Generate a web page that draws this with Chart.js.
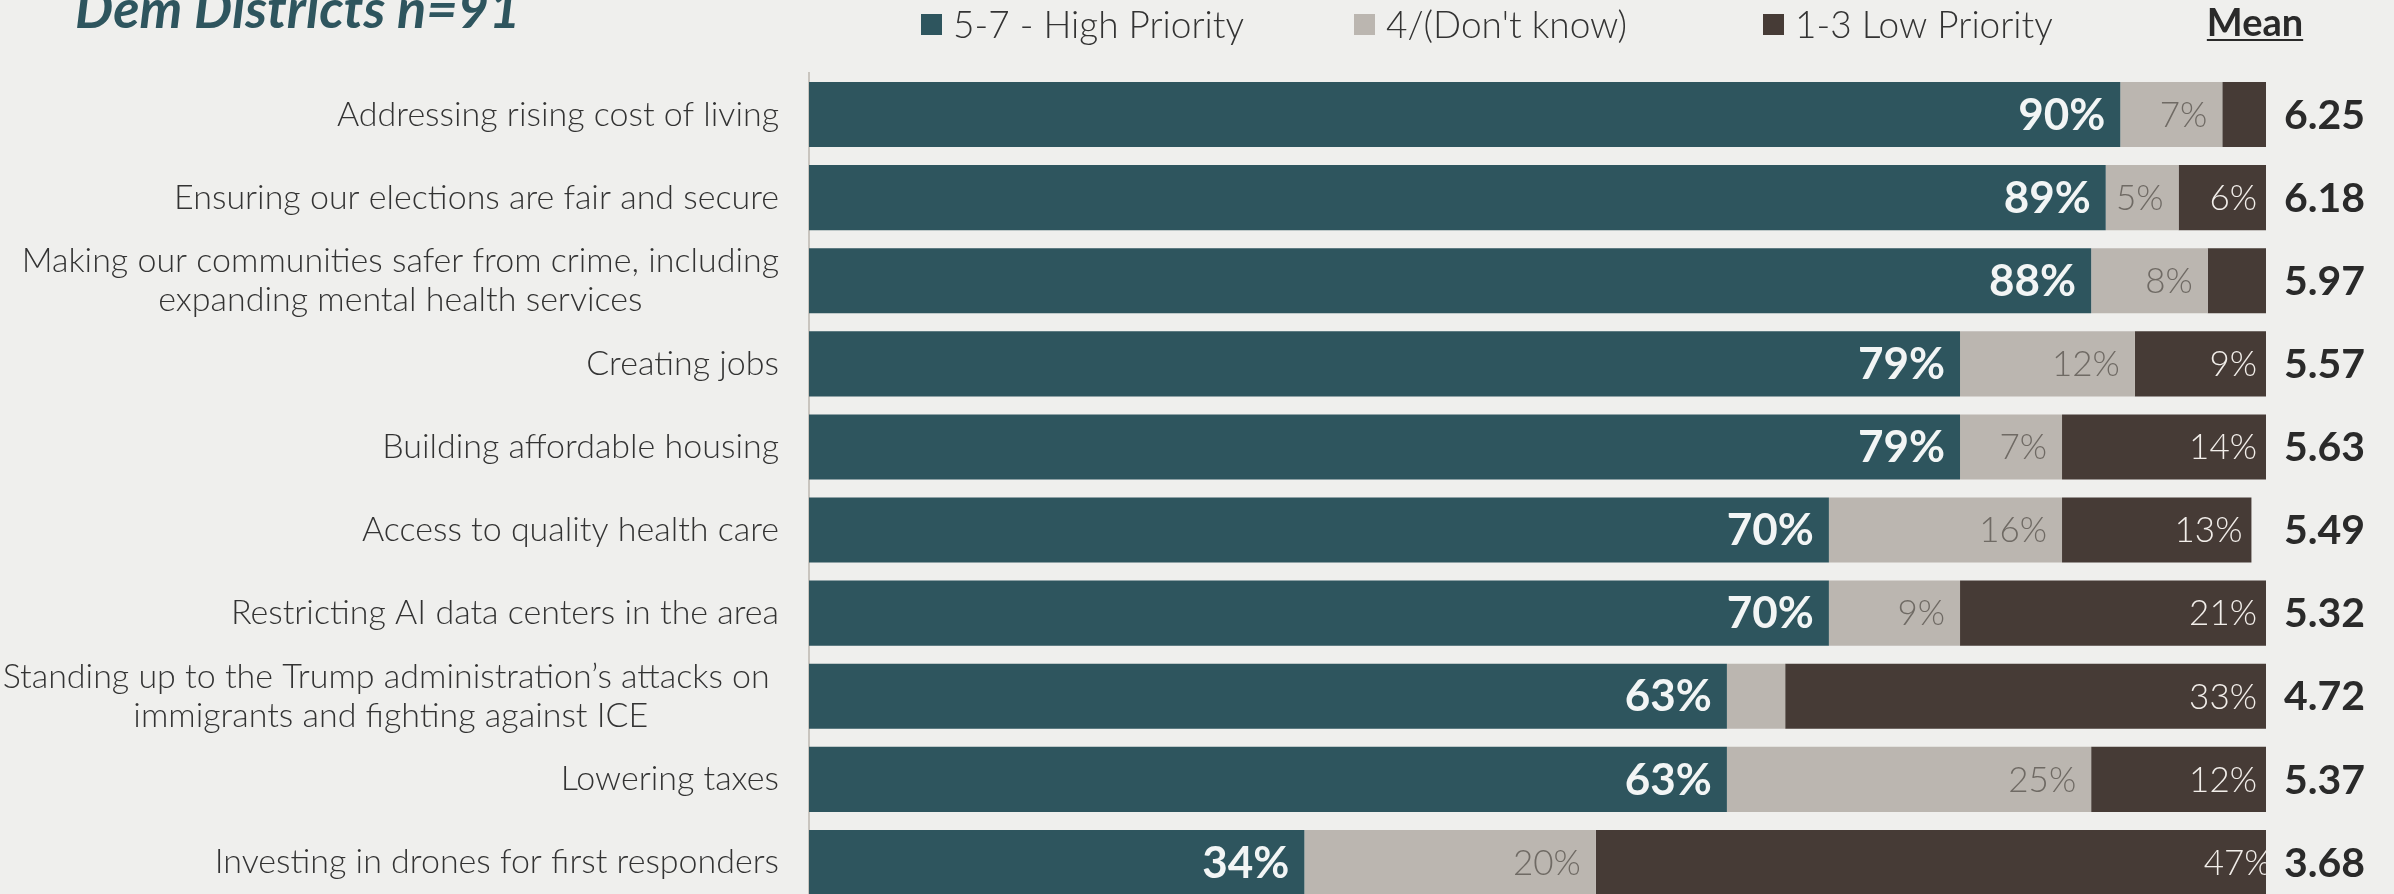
<!DOCTYPE html>
<html>
<head>
<meta charset="utf-8">
<script src="https://cdn.jsdelivr.net/npm/chart.js@4.4.1/dist/chart.umd.min.js"></script>
<style>
  html, body { margin: 0; padding: 0; background: #efefed; overflow: hidden; }
  #wrap { width: 2394px; height: 894px; overflow: hidden; }
</style>
</head>
<body>
<div id="wrap"><canvas id="chart" width="2394" height="920"></canvas></div>
<script>
// Dem Districts n=91 - priority ratings
var categories = [
    'Addressing rising cost of living',
    'Ensuring our elections are fair and secure',
    ['Making our communities safer from crime, including', 'expanding mental health services'],
    'Creating jobs',
    'Building affordable housing',
    'Access to quality health care',
    'Restricting AI data centers in the area',
    ['Standing up to the Trump administration\u2019s attacks on ', 'immigrants and fighting against ICE'],
    'Lowering taxes',
    'Investing in drones for first responders'
];
var highPriority = [90, 89, 88, 79, 79, 70, 70, 63, 63, 34];
var dontKnow = [7, 5, 8, 12, 7, 16, 9, 4, 25, 20];
var lowPriority = [3, 6, 4, 9, 14, 13, 21, 33, 12, 47];
var means = ['6.25', '6.18', '5.97', '5.57', '5.63', '5.49', '5.32', '4.72', '5.37', '3.68'];
var seriesNames = ['5-7 - High Priority', '4/(Don\'t know)', '1-3 Low Priority'];

var FONT = 'Lato, "Open Sans", sans-serif';
var TEAL = '#2e555e';
var GREY = '#bbb6b0';
var BROWN = '#463b36';

// how the % labels inside each segment look
var segLabelStyle = [
    { font: 'bold 44px ' + FONT, color: '#f2f5f5', pad: 15 },
    { font: '300 35px ' + FONT, color: '#6f6a64', pad: 15 },
    { font: '300 35px ' + FONT, color: '#f2eeea', pad: 9 }
];
var legendX = [921, 1354, 1763];

var textPlugin = {
    id: 'textPlugin',
    afterDatasetsDraw: function (chart) {
        var ctx = chart.ctx;
        ctx.save();
        ctx.textBaseline = 'middle';
        chart.data.datasets.forEach(function (ds, di) {
            var st = segLabelStyle[di];
            chart.getDatasetMeta(di).data.forEach(function (bar, i) {
                var v = ds.data[i];
                if (v < 5) return;
                ctx.font = st.font;
                ctx.fillStyle = st.color;
                ctx.textAlign = 'right';
                ctx.fillText(v + '%', bar.x - st.pad, bar.y + 1);
            });
        });
        ctx.restore();
    },
    afterDraw: function (chart) {
        var ctx = chart.ctx;
        var yScale = chart.scales.y;
        var area = chart.chartArea;
        ctx.save();

        // category labels, multi-line ones centred on themselves
        ctx.font = '300 34px ' + FONT;
        ctx.fillStyle = '#333333';
        ctx.textBaseline = 'middle';
        ctx.textAlign = 'center';
        categories.forEach(function (cat, i) {
            var lines = Array.isArray(cat) ? cat : [cat];
            var widest = 0;
            lines.forEach(function (l) { widest = Math.max(widest, ctx.measureText(l).width); });
            var cx = yScale.right - 30 - widest / 2;
            var y = yScale.getPixelForValue(i) - (lines.length - 1) * 19.5;
            lines.forEach(function (l, k) { ctx.fillText(l, cx, y + k * 39); });
        });

        // mean column
        ctx.font = 'bold 41px ' + FONT;
        ctx.fillStyle = '#2a2a2a';
        ctx.textAlign = 'left';
        means.forEach(function (m, i) {
            ctx.fillText(m, area.right + 18, yScale.getPixelForValue(i) + 1);
        });
        ctx.font = 'bold 38px ' + FONT;
        ctx.textAlign = 'center';
        ctx.textBaseline = 'alphabetic';
        ctx.fillText('Mean', 2255, 36);
        var mw = ctx.measureText('Mean').width;
        ctx.fillRect(2255 - mw / 2, 39, mw, 2);

        // title, cut off at the top like the slide
        ctx.font = 'italic bold 54px ' + FONT;
        ctx.fillStyle = TEAL;
        ctx.textAlign = 'left';
        ctx.fillText('Dem Districts n=91', 75, 28);

        // legend
        ctx.font = '300 37px ' + FONT;
        ctx.textBaseline = 'middle';
        chart.data.datasets.forEach(function (ds, i) {
            var x = legendX[i];
            ctx.fillStyle = ds.backgroundColor;
            ctx.fillRect(x, 14, 21, 21);
            ctx.fillStyle = '#333333';
            ctx.fillText(ds.label, x + 32, 26);
        });
        ctx.restore();
    }
};

var chart = new Chart(document.getElementById('chart').getContext('2d'), {
    type: 'bar',
    data: {
        labels: categories,
        datasets: [
            { label: seriesNames[0], data: highPriority, backgroundColor: TEAL },
            { label: seriesNames[1], data: dontKnow, backgroundColor: GREY },
            { label: seriesNames[2], data: lowPriority, backgroundColor: BROWN }
        ]
    },
    options: {
        indexAxis: 'y',
        responsive: false,
        animation: false,
        layout: { padding: { top: 73, bottom: 16, left: 0, right: 128 } },
        datasets: { bar: { categoryPercentage: 1, barPercentage: 0.783 } },
        scales: {
            x: { stacked: true, min: 0, max: 100, display: false },
            y: {
                stacked: true,
                ticks: { display: false },
                grid: { display: false, drawTicks: false },
                border: { display: true, color: '#c9c5bf', width: 2 },
                afterFit: function (scale) { scale.width = 809; }
            }
        },
        plugins: {
            legend: { display: false },
            tooltip: { enabled: false }
        }
    },
    plugins: [textPlugin]
});
</script>
</body>
</html>
